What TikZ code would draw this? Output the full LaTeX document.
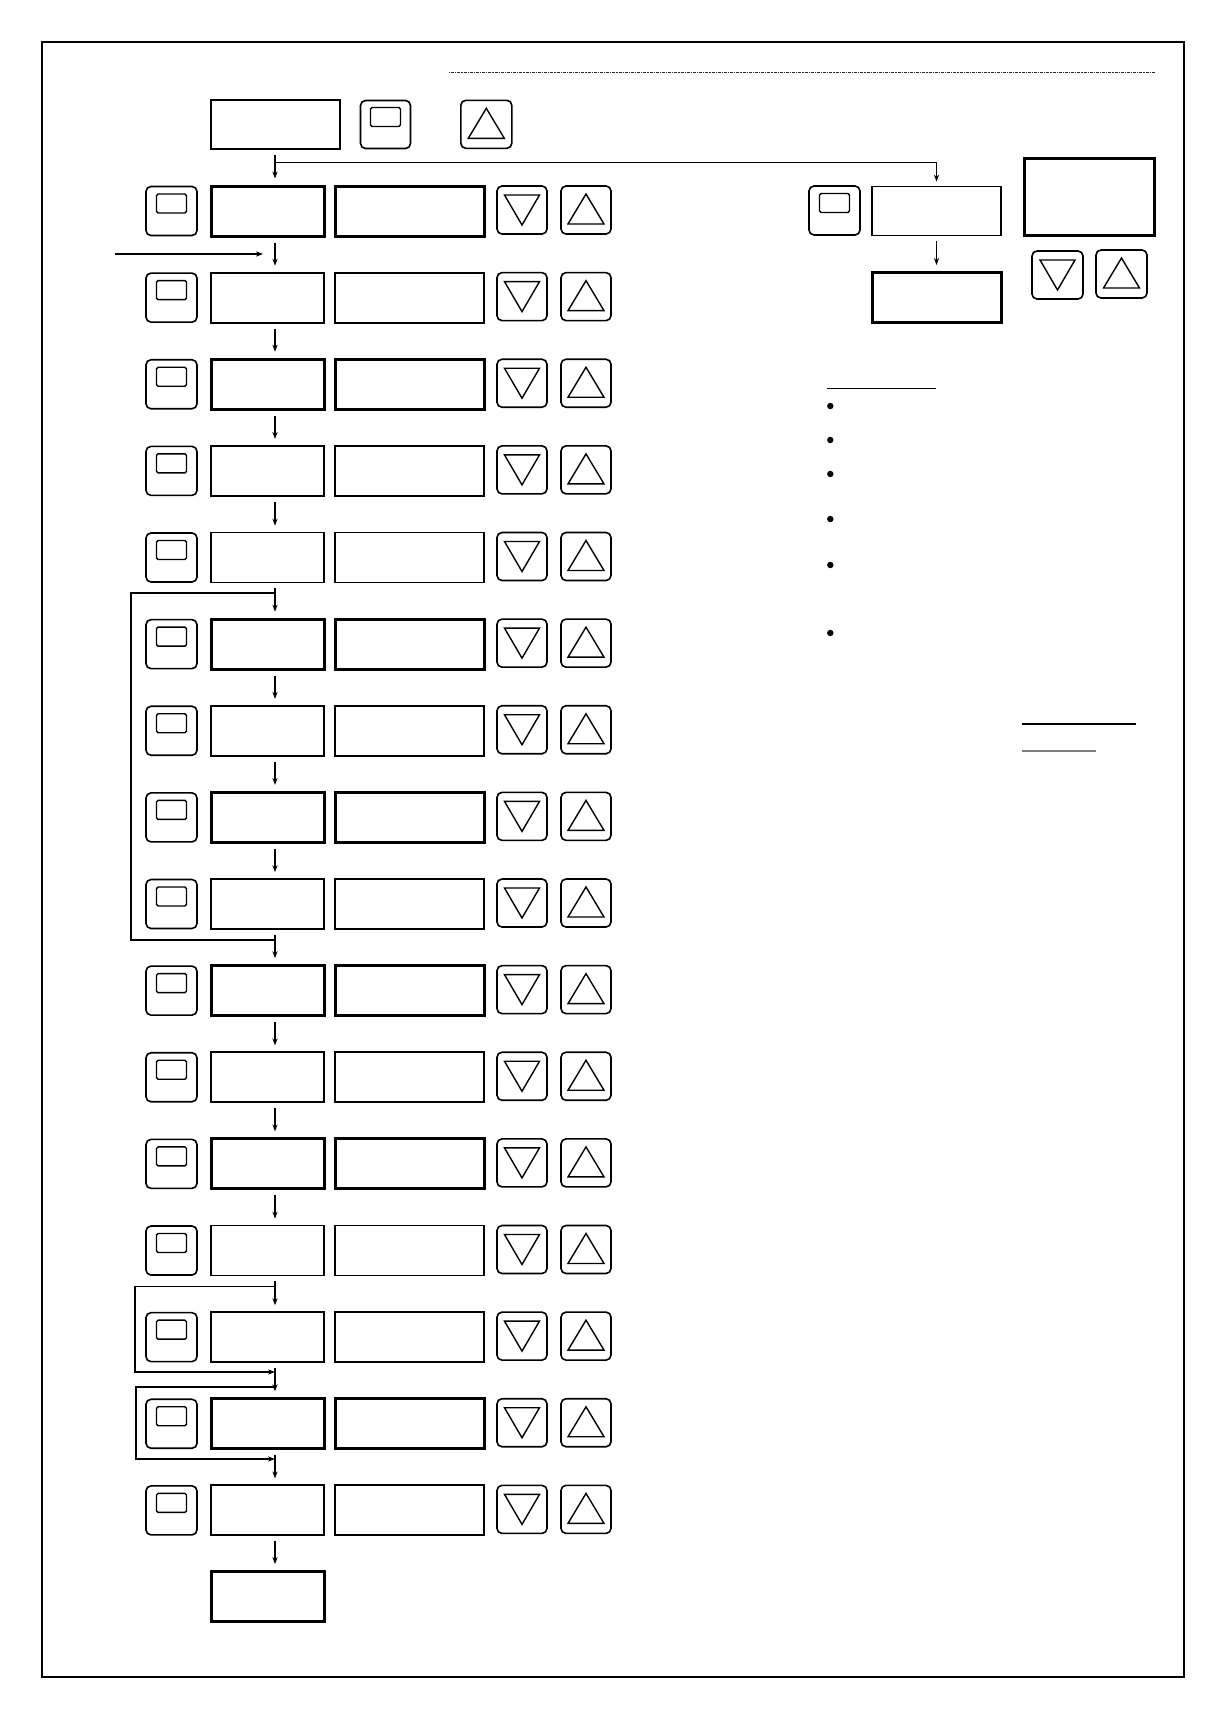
\documentclass[tikz,border=0pt]{standalone}
\usepackage{tikz}
\usetikzlibrary{arrows.meta,calc}

\tikzset{
	disp/.style={draw, inner sep=0pt, minimum height=25pt, line width=0.9pt},
	keybtn/.style={draw, rounded corners=2.5pt, inner sep=0pt, minimum width=25.5pt, minimum height=24.5pt, line width=0.8pt},
	flow/.style={line width=0.6pt, -{Stealth[length=3.5pt,width=2.6pt]}},
	plain/.style={line width=0.7pt}
}

\newcommand{\modekey}[1]{\draw[line width=0.7pt, rounded corners=0.8pt] ($(#1.center)+(-7.5pt,-1pt)$) rectangle ($(#1.center)+(7.5pt,8.5pt)$);}
\newcommand{\dnkey}[1]{\draw[line width=0.7pt] ($(#1.center)+(-8.75pt,7.5pt)$) -- ($(#1.center)+(8.75pt,7.5pt)$) -- ($(#1.center)+(0,-7.5pt)$) -- cycle;}
\newcommand{\upkey}[1]{\draw[line width=0.7pt] ($(#1.center)+(0,8pt)$) -- ($(#1.center)+(9pt,-7pt)$) -- ($(#1.center)+(-9pt,-7pt)$) -- cycle;}

\begin{document}
\begin{tikzpicture}[x=0.5pt,y=-0.5pt]
	\useasboundingbox (0,0) rectangle (1227,1720);
	\draw[line width=1pt] (42,42) rectangle (1184,1677);
	\draw[dash pattern=on 0.6pt off 0.5pt on 1.5pt off 0.5pt, line width=0.5pt, black!85] (449,72.5) -- (1155,72.5);

	% top line
	\node[disp, minimum width=64.5pt, minimum height=24.5pt] (topval) at (275.5,124.5) {};
	\node[keybtn, minimum width=25pt, minimum height=24pt] (topmode) at (385.5,124.5) {};
	\modekey{topmode}
	\node[keybtn, minimum width=25.5pt, minimum height=24pt] (topup) at (486.3,124.3) {};
	\upkey{topup}

	% parameter rows
	\foreach \k/\lw in {0/1.5pt,1/0.9pt,2/1.5pt,3/0.9pt,4/0.9pt,5/1.5pt,6/0.9pt,7/1.5pt,8/0.9pt,9/1.5pt,10/0.9pt,11/1.5pt,12/0.9pt,13/0.9pt,14/1.5pt,15/0.9pt}{
		\pgfmathsetmacro{\yc}{211+86.625*\k}
		\node[keybtn] (mode\k) at (171.5,\yc) {};
		\modekey{mode\k}
		\node[disp, line width=\lw, minimum width=56.5pt] (val\k) at (267.5,\yc) {};
		\node[disp, line width=\lw, minimum width=74.5pt] (set\k) at (409.5,\yc) {};
		\node[keybtn, minimum width=25pt, minimum height=24pt] (dn\k) at (522,\yc-1) {};
		\dnkey{dn\k}
		\node[keybtn, minimum width=25pt, minimum height=24pt] (up\k) at (586,\yc-1) {};
		\upkey{up\k}
	}
	\node[disp, line width=1.5pt, minimum width=56.5pt] (endval) at (267.5,1596.5) {};

	\coordinate (spine) at (275,0);
	\draw[flow] ($(topval.south -| spine)+(0,-2.5pt)$) -- ($(val0.north -| spine)+(0,3pt)$);
	\foreach \k [evaluate=\k as \n using int(\k+1)] in {0,...,14}
		\draw[flow] ($(val\k.south -| spine)+(0,-2.5pt)$) -- ($(val\n.north -| spine)+(0,3pt)$);
	\draw[flow] ($(val15.south -| spine)+(0,-2.5pt)$) -- ($(endval.north -| spine)+(0,3pt)$);

	\coordinate (entry) at (115,254);
	\draw[flow] (entry) -- ($(entry -| spine)+(-6pt,0)$);

	% loops
	\coordinate (loopin) at (131,593);
	\coordinate (loopout) at (131,940);
	\draw[plain] (loopout -| spine) -- (loopout) -- (loopin) -- (loopin -| spine);
	\coordinate (skipAtop) at (135,1286.5);
	\coordinate (skipAbot) at (135,1372);
	\draw[flow] (skipAtop -| spine) -- (skipAtop) -- (skipAbot) -- (skipAbot -| spine);
	\coordinate (skipBtop) at (136,1387);
	\coordinate (skipBbot) at (136,1459);
	\draw[flow] (skipBtop -| spine) -- (skipBtop) -- (skipBbot) -- (skipBbot -| spine);

	% right branch
	\coordinate (branch) at (275,162.5);
	\node[keybtn] (rmode) at (834.5,210.5) {};
	\modekey{rmode}
	\node[disp, minimum width=64.5pt, minimum height=24.5pt] (rval) at (936.5,211) {};
	\node[disp, line width=1.5pt, minimum width=64.5pt] (rset) at (936.5,297.5) {};
	\draw[flow] (branch) -| ($(rval.north)+(0,2pt)$);
	\draw[flow] ($(rval.south)+(0,-2.5pt)$) -- ($(rset.north)+(0,3pt)$);
	\node[disp, line width=1.5pt, minimum width=65pt, minimum height=38.5pt] (bigval) at (1089,196.5) {};
	\node[keybtn, minimum height=24pt] (rdn) at (1057.5,275) {};
	\dnkey{rdn}
	\node[keybtn, minimum height=24pt] (rup) at (1121.5,274) {};
	\upkey{rup}

	% notes
	\draw[line width=0.8pt] (827,388.3) -- (935.7,388.3);
	\foreach \yb in {406,440,474,519,565,633}
		\fill (830.3,\yb) circle (1.6pt);
	\draw[line width=0.8pt] (1022,724) -- (1136,724);
	\draw[line width=0.8pt, gray] (1022,751) -- (1096,751);
\end{tikzpicture}
\end{document}
